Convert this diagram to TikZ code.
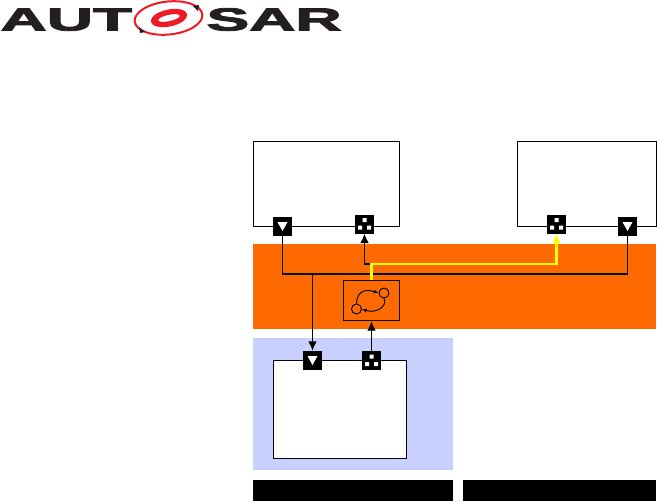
\documentclass[tikz,border=0pt]{standalone}
\usepackage{fontspec}
\setmainfont{Liberation Sans}
\newfontfamily\logofont[FakeBold=2.5]{Liberation Sans Bold}
\usepackage{xcolor}
\usetikzlibrary{arrows.meta,positioning,calc}
\definecolor{busorange}{HTML}{FF6A00}
\definecolor{ecublue}{HTML}{C8D0FF}
\definecolor{logored}{HTML}{ED1C24}
\definecolor{logoblack}{HTML}{231F20}
\definecolor{pathyellow}{HTML}{FFFF00}
\tikzset{
  swcbox/.style={draw, line width=1pt, inner sep=0pt, anchor=north west},
  bandbox/.style={inner sep=0pt, anchor=north west},
  portbox/.style={fill=black, minimum size=14.25pt, inner sep=0pt},
  logotext/.style={text=logoblack, font=\fontsize{24}{24}\logofont, inner sep=0pt, xscale=2},
  conn/.style={line width=1pt, -{Latex[length=7pt,width=6.5pt]}},
  wire/.style={line width=1pt},
}
\newcommand{\outport}[2]{%
  \node[portbox] (#1) at (#2) {};
  \fill[white, shift={(#1.center)}] (-5,-4.5) -- (5,-4.5) -- (0,4.5) -- cycle;
}
\newcommand{\inport}[2]{%
  \node[portbox] (#1) at (#2) {};
  \fill[white, shift={(#1.center)}] (-2,-6) rectangle (2,-2) (-6.5,1.5) rectangle (-2.5,5.5) (2.5,1.5) rectangle (6.5,5.5);
}
\begin{document}
\begin{tikzpicture}[x=0.75pt, y=-0.75pt]
\useasboundingbox (0,0) rectangle (657,501);
% logo
\node[logotext, anchor=base west] (logoA) at (0,30.5) {AUT};
\node[logotext, anchor=base west] (logoB) at (206,30.5) {SAR};
\draw[logored, line width=1.5pt, rotate around={6:(168.5,18)}] (168.5,18) ellipse [x radius=34, y radius=16.5];
\fill[logored, even odd rule, rotate around={12:(169,18)}] (169,18) ellipse [x radius=18.5, y radius=8.5] (169,18) ellipse [x radius=11, y radius=3.2];
\fill[logoblack] (193,6) -- (199,5) -- (198,11) -- cycle;
\fill[logoblack] (139,27) -- (145,32) -- (140,33) -- cycle;
% bands
\node[bandbox, fill=busorange, minimum width=302.25pt, minimum height=63.75pt] (bus) at (253,244) {};
\node[bandbox, fill=ecublue, minimum width=150pt, minimum height=99pt] (ecu) at (253,338) {};
\node[bandbox, fill=black, minimum width=150pt, minimum height=15.75pt] (barA) at (253,480) {};
\node[bandbox, fill=black, minimum width=144.75pt, minimum height=15.75pt] (barB) at (463,480) {};
% components
\node[swcbox, fill=white, minimum width=109.5pt, minimum height=63.75pt] (swcA) at (253,141) {};
\node[swcbox, fill=white, minimum width=104.25pt, minimum height=63.75pt] (swcB) at (517,141) {};
\node[swcbox, fill=white, minimum width=99.75pt, minimum height=73.5pt] (swcC) at (273,360) {};
% ports
\outport{sendA}{282.5,226.5}
\inport{recvA}{364.5,224}
\inport{recvB}{556.5,224}
\outport{sendB}{627.5,226.5}
\outport{recvC}{312.5,360.5}
\inport{sendC}{371.5,360.5}
% gateway
\node[swcbox, minimum width=42pt, minimum height=30pt] (gw) at (343,280) {};
\node[draw, circle, line width=0.7pt, minimum size=7.5pt, inner sep=0pt] (ringA) at (384,293) {};
\node[draw, circle, line width=0.7pt, minimum size=7.5pt, inner sep=0pt] (ringB) at (356.5,309) {};
\draw[line width=0.7pt, -{Latex[length=3.5pt,width=3pt]}] (ringB.north) .. controls (357,293) and (363,288) .. (ringA.west);
\draw[line width=0.7pt, -{Latex[length=3.5pt,width=3pt]}] (ringA.south) .. controls (388,306) and (376,314) .. (ringB.east);
% connectors
\coordinate (busL) at (sendA.south |- 0,274);
\coordinate (busR) at (sendB.south |- 0,274);
\coordinate (busC) at (recvC.north |- 0,274);
\draw[wire] (sendA.south) -- (busL) -- (busR) -- (sendB.south);
\draw[conn] (busC) -- (recvC.north);
\draw[conn] (sendC.north) -- (sendC.north |- gw.south);
\coordinate (upA) at (recvA.south |- 0,264);
\coordinate (upB) at (sendC.north |- 0,264);
\coordinate (upC) at (recvB.south |- 0,264);
\draw[conn] (upB) -- (upA) -- (recvA.south);
\draw[conn, pathyellow, line width=1.6pt] (sendC.north |- gw.north) -- (upB) -- (upC) -- (recvB.south);
\end{tikzpicture}
\end{document}
